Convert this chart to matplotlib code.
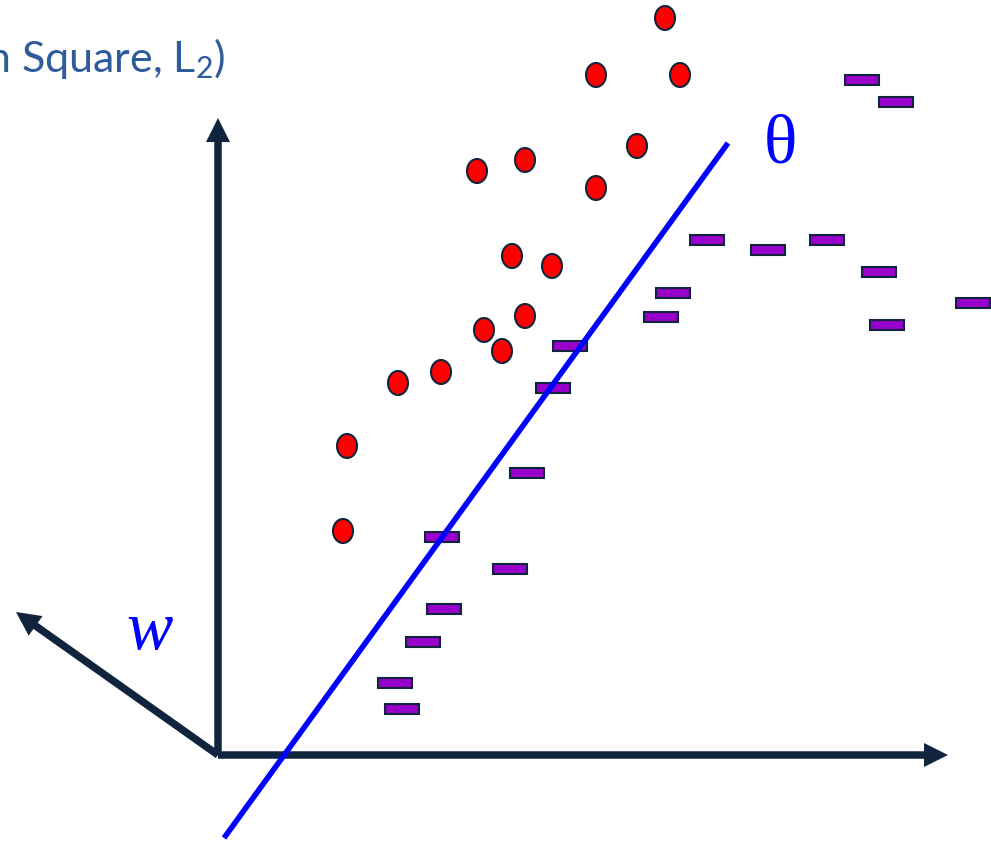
import matplotlib.pyplot as plt
from matplotlib.patches import Ellipse, Rectangle
import numpy as np

# picture is laid out in pixel units (x right, y down)
circle_x = [665, 596, 680, 637, 477, 525, 596, 512, 552, 484, 525, 502, 398, 441, 347, 343]
circle_y = [18, 75, 75, 146, 171, 160, 188, 256, 266, 330, 316, 351, 383, 372, 446, 531]

rect_x = [862, 896, 707, 768, 827, 879, 673, 661, 887, 973, 570, 553, 527, 442, 510, 444, 423, 395, 402]
rect_y = [80, 102, 240, 250, 240, 272, 293, 317, 325, 303, 346, 388, 473, 537, 569, 609, 642, 683, 709]

origin = (218, 755)
y_axis_top = (218, 118)
x_axis_end = (948, 755)
w_end = (16, 612)
theta_line = ([224, 728], [838, 143])

navy = '#10243E'
red = '#FF0000'
purple = '#9900CC'
blue = '#0000FF'

plt.rcParams['mathtext.fontset'] = 'custom'
plt.rcParams['mathtext.rm'] = 'Lato'

fig = plt.figure(figsize=(9.91, 8.42), dpi=100)
ax = fig.add_axes([0, 0, 1, 1])
ax.set_xlim(0, 991)
ax.set_ylim(842, 0)
ax.axis('off')

# axes and w arrows
for end in [y_axis_top, x_axis_end, w_end]:
    ax.arrow(origin[0], origin[1], end[0] - origin[0], end[1] - origin[1],
             width=7.5, head_width=24, head_length=24, length_includes_head=True,
             color=navy, lw=0)

# theta line
ax.plot(theta_line[0], theta_line[1], color=blue, lw=4, solid_capstyle='butt')

for x, y in zip(circle_x, circle_y):
    ax.add_patch(Ellipse((x, y), 20, 24, facecolor=red, edgecolor=navy, lw=1.5))

for x, y in zip(rect_x, rect_y):
    ax.add_patch(Rectangle((x - 17, y - 5), 34, 10, facecolor=purple, edgecolor=navy, lw=1.5))

ax.text(780, 146, '\u03b8', color=blue, fontsize=50, family='Liberation Serif',
        ha='center', va='center')
ax.text(150, 632, 'w', color=blue, fontsize=50, family='Liberation Serif',
        style='italic', ha='center', va='center')

ax.text(226, 72, 'Mean Square, L$_\\mathrm{2}$)', color='#2E5C9A', fontsize=31,
        family='Lato', ha='right', va='baseline')

fig.savefig('out.png', dpi=100)
